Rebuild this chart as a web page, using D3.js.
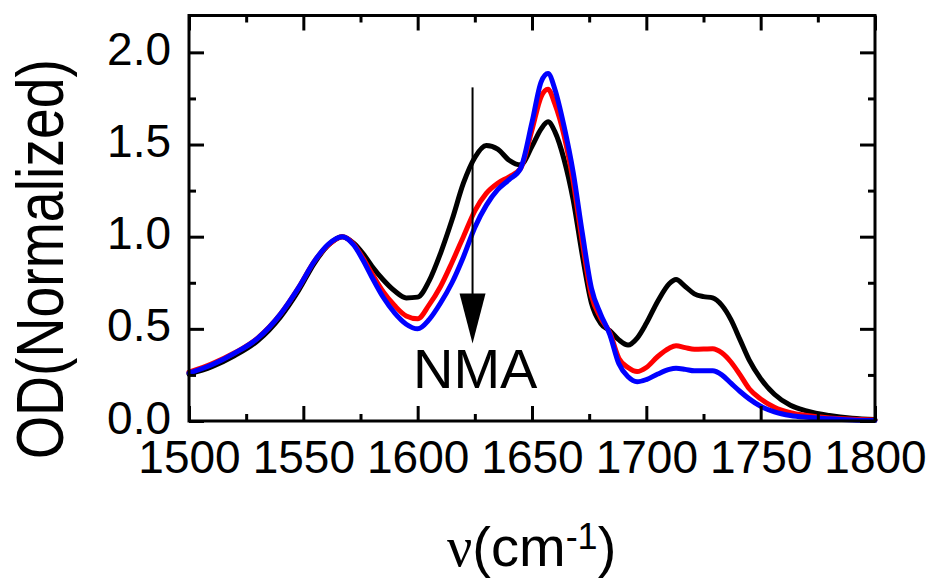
<!DOCTYPE html>
<html>
<head>
<meta charset="utf-8">
<script src="https://cdn.jsdelivr.net/npm/d3@7/dist/d3.min.js"></script>
<style>
  html, body { margin: 0; padding: 0; background: #fff; }
  svg { display: block; }
  text { font-family: "Liberation Sans", Arial, sans-serif; fill: #000; }
</style>
</head>
<body>
<svg id="chart" width="931" height="579"></svg>
<script>
// ---- data ----
const wavenumbers = [1500,1510,1520,1530,1540,1548,1555,1561,1567,1572,1576,1580,1585,1590,1595,1600,1605,1610,1615,1620,1625,1630,1635,1640,1645,1650,1654,1657,1660,1664,1668,1672,1676,1680,1684,1688,1692,1696,1700,1705,1710,1713,1717,1721,1725,1729,1733,1737,1741,1745,1750,1756,1763,1770,1780,1790,1800];

const blackSeries = [0.255,0.295,0.355,0.435,0.565,0.71,0.86,0.955,1.0,0.965,0.91,0.84,0.765,0.705,0.668,0.672,0.76,0.91,1.09,1.29,1.43,1.495,1.475,1.415,1.39,1.49,1.585,1.623,1.57,1.42,1.20,0.90,0.64,0.53,0.49,0.44,0.412,0.45,0.53,0.65,0.745,0.768,0.73,0.69,0.675,0.668,0.628,0.55,0.44,0.33,0.23,0.145,0.085,0.055,0.03,0.015,0.008];

const redSeries = [0.265,0.31,0.37,0.45,0.58,0.725,0.87,0.955,1.0,0.96,0.885,0.80,0.70,0.625,0.57,0.555,0.63,0.73,0.86,1.0,1.14,1.235,1.29,1.325,1.37,1.58,1.76,1.80,1.72,1.55,1.30,0.97,0.68,0.56,0.48,0.34,0.29,0.268,0.29,0.35,0.395,0.408,0.398,0.389,0.39,0.392,0.37,0.32,0.25,0.175,0.12,0.075,0.045,0.03,0.017,0.01,0.005];

const blueSeries = [0.26,0.305,0.368,0.448,0.58,0.725,0.87,0.96,1.0,0.955,0.875,0.78,0.67,0.585,0.525,0.50,0.55,0.64,0.75,0.89,1.05,1.17,1.255,1.31,1.37,1.62,1.84,1.885,1.80,1.60,1.35,1.02,0.72,0.58,0.47,0.31,0.24,0.213,0.225,0.255,0.28,0.286,0.28,0.272,0.272,0.272,0.25,0.205,0.16,0.12,0.08,0.05,0.03,0.02,0.012,0.006,0.003];

const seriesColors = ["#000000", "#ff0000", "#0000ff"];

const xMajorTicks = [1500,1550,1600,1650,1700,1750,1800];
const xMinorTicks = [1525,1575,1625,1675,1725,1775];
const yMajorTicks = [0.0,0.5,1.0,1.5,2.0];
const yMinorTicks = [0.25,0.75,1.25,1.75];

const xDomain = [1500, 1800];
const yDomain = [0, 2.2];

const yTitle = "OD(Normalized)";
const annotation = "NMA";
const arrowFrom = 1.81;  // y value where arrow starts
const arrowTo = 0.42;    // y value of arrow tip
const arrowAt = 1624;    // wavenumber of arrow

// ---- layout ----
const svg = d3.select("#chart");
const L = 189, R = 875, T = 15.5, B = 421;
const x = d3.scaleLinear().domain(xDomain).range([L, R]);
const y = d3.scaleLinear().domain(yDomain).range([B, T]);

// curves
const line = d3.line()
  .x(d => x(d[0]))
  .y(d => y(d[1]))
  .curve(d3.curveMonotoneX);

const allSeries = [blackSeries, redSeries, blueSeries];
const g = svg.append("g");
allSeries.forEach((vals, i) => {
  g.append("path")
    .datum(wavenumbers.map((w, k) => [w, vals[k]]))
    .attr("d", line)
    .attr("fill", "none")
    .attr("stroke", seriesColors[i])
    .attr("stroke-width", 5)
    .attr("stroke-linejoin", "round")
    .attr("stroke-linecap", "round");
});

// axes (ticks inward, mirrored)
function styleAxis(sel) {
  sel.select(".domain").remove();
  sel.selectAll("line").attr("stroke", "#000").attr("stroke-width", 3);
  sel.selectAll("text").style("font-size", "46px").attr("fill", "#000")
    .style("font-family", '"Liberation Sans", Arial, sans-serif');
}
const fmtX = d3.format("d");
const fmtY = d3.format(".1f");

const xBottom = svg.append("g").attr("transform", `translate(0,${B})`)
  .call(d3.axisBottom(x).tickValues(xMajorTicks).tickSize(-15).tickPadding(19.3).tickFormat(fmtX));
styleAxis(xBottom);
const xBottomMinor = svg.append("g").attr("transform", `translate(0,${B})`)
  .call(d3.axisBottom(x).tickValues(xMinorTicks).tickSize(-7).tickFormat(""));
styleAxis(xBottomMinor);
const xTop = svg.append("g").attr("transform", `translate(0,${T})`)
  .call(d3.axisTop(x).tickValues(xMajorTicks).tickSize(-15).tickFormat(""));
styleAxis(xTop);
const xTopMinor = svg.append("g").attr("transform", `translate(0,${T})`)
  .call(d3.axisTop(x).tickValues(xMinorTicks).tickSize(-7).tickFormat(""));
styleAxis(xTopMinor);

const yLeft = svg.append("g").attr("transform", `translate(${L},0)`)
  .call(d3.axisLeft(y).tickValues(yMajorTicks).tickSize(-15).tickPadding(18).tickFormat(fmtY));
styleAxis(yLeft);
yLeft.selectAll("text").attr("dy", "12px");
const yLeftMinor = svg.append("g").attr("transform", `translate(${L},0)`)
  .call(d3.axisLeft(y).tickValues(yMinorTicks).tickSize(-7).tickFormat(""));
styleAxis(yLeftMinor);
const yRight = svg.append("g").attr("transform", `translate(${R},0)`)
  .call(d3.axisRight(y).tickValues(yMajorTicks).tickSize(-15).tickFormat(""));
styleAxis(yRight);
const yRightMinor = svg.append("g").attr("transform", `translate(${R},0)`)
  .call(d3.axisRight(y).tickValues(yMinorTicks).tickSize(-7).tickFormat(""));
styleAxis(yRightMinor);

// frame
svg.append("rect")
  .attr("x", L).attr("y", T).attr("width", R - L).attr("height", B - T)
  .attr("fill", "none").attr("stroke", "#000").attr("stroke-width", 3);

// arrow annotation
const ax = x(arrowAt);
const tipY = y(arrowTo);
svg.append("line")
  .attr("x1", ax).attr("x2", ax)
  .attr("y1", y(arrowFrom)).attr("y2", tipY - 45)
  .attr("stroke", "#000").attr("stroke-width", 2);
svg.append("path")
  .attr("d", `M${ax - 13},${tipY - 50} L${ax + 13},${tipY - 50} L${ax},${tipY} Z`)
  .attr("fill", "#000");

svg.append("text")
  .attr("x", 413).attr("y", 388)
  .style("font-size", "56px")
  .text(annotation);

// axis titles
const xt = svg.append("text")
  .attr("x", 447).attr("y", 566)
  .style("font-size", "56px");
xt.append("tspan").style("font-family", '"Liberation Serif", "DejaVu Serif", serif').text("ν");
xt.append("tspan").text("(cm");
xt.append("tspan").style("font-size", "36px").attr("dy", -17).text("-1");
xt.append("tspan").attr("dy", 17).text(")");

svg.append("text")
  .attr("transform", "translate(63,259) rotate(-90)")
  .attr("text-anchor", "middle")
  .attr("textLength", 400)
  .attr("lengthAdjust", "spacingAndGlyphs")
  .style("font-size", "66px")
  .text(yTitle);
</script>
</body>
</html>
